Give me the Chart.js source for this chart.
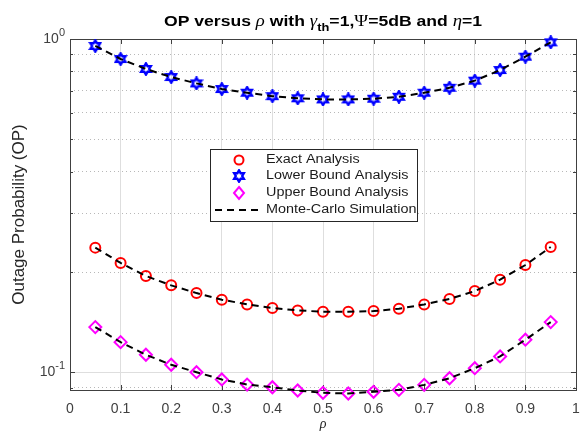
<!DOCTYPE html>
<html>
<head>
<meta charset="utf-8">
<script src="https://cdn.jsdelivr.net/npm/chart.js@4/dist/chart.umd.min.js"></script>
<style>
  html, body { margin: 0; padding: 0; background: #fff; }
  #wrap { width: 584px; height: 433px; }
</style>
</head>
<body>
<div id="wrap"><canvas id="op-chart"></canvas></div>
<script>
// rho values (x axis)
const rho = [0.05, 0.1, 0.15, 0.2, 0.25, 0.3, 0.35, 0.4, 0.45, 0.5,
  0.55, 0.6, 0.65, 0.7, 0.75, 0.8, 0.85, 0.9, 0.95];

// outage probability
const exactOP = [0.2368, 0.2130, 0.1947, 0.1825, 0.1730, 0.1653, 0.1600, 0.1560, 0.1535, 0.1521,
  0.1521, 0.1528, 0.1553, 0.1600, 0.1661, 0.1754, 0.1898, 0.2100, 0.2378];
const lowerOP = [0.953, 0.871, 0.813, 0.769, 0.736, 0.708, 0.690, 0.674, 0.664, 0.659,
  0.659, 0.662, 0.671, 0.690, 0.714, 0.750, 0.807, 0.885, 0.977];
const upperOP = [0.1368, 0.1233, 0.1130, 0.1055, 0.1002, 0.0953, 0.0920, 0.0903, 0.0883, 0.0869,
  0.0865, 0.0875, 0.0887, 0.0918, 0.0961, 0.1030, 0.1117, 0.1254, 0.1416];

// y ticks (log scale, majors + minors)
const yTicks = [0.09, 0.1, 0.2, 0.3, 0.4, 0.5, 0.6, 0.7, 0.8, 0.9, 1];
const yMajor = [0.1, 1];
const yLabels = { 0.1: "-1", 1: "0" };

const axisColor = "#404040";

function pts(ys) {
  return rho.map((x, i) => ({ x: x, y: ys[i] }));
}

// hexagram marker (matlab 'h')
function hexagram(color) {
  const c = document.createElement("canvas");
  c.width = 14; c.height = 14;
  const g = c.getContext("2d");
  const R = 5.6, r = R / Math.sqrt(3);
  g.beginPath();
  for (let k = 0; k < 12; k++) {
    const a = -Math.PI / 2 + k * Math.PI / 6;
    const rr = k % 2 == 0 ? R : r;
    const px = 7 + rr * Math.cos(a), py = 7 + rr * Math.sin(a);
    if (k == 0) g.moveTo(px, py); else g.lineTo(px, py);
  }
  g.closePath();
  g.lineWidth = 2.4;
  g.strokeStyle = color;
  g.stroke();
  return c;
}
const hexBlue = hexagram("#0000ff");

// box + inner ticks like matlab
const boxPlugin = {
  id: "box",
  beforeDatasetsDraw(chart) {
    const { ctx, chartArea: a, scales } = chart;
    ctx.save();
    ctx.strokeStyle = axisColor;
    ctx.lineWidth = 1;
    ctx.beginPath();
    scales.x.ticks.forEach((t) => {
      const px = Math.round(scales.x.getPixelForValue(t.value)) + 0.5;
      ctx.moveTo(px, a.bottom); ctx.lineTo(px, a.bottom - 5);
      ctx.moveTo(px, a.top); ctx.lineTo(px, a.top + 5);
    });
    yTicks.forEach((v) => {
      const py = Math.round(scales.y.getPixelForValue(v)) + 0.5;
      const len = yMajor.includes(v) ? 5 : 3;
      ctx.moveTo(a.left, py); ctx.lineTo(a.left + len, py);
      ctx.moveTo(a.right, py); ctx.lineTo(a.right - len, py);
    });
    ctx.stroke();
    ctx.strokeRect(Math.round(a.left) + 0.5, Math.round(a.top) + 0.5,
      Math.round(a.right - a.left), Math.round(a.bottom - a.top));
    ctx.restore();
  },
  afterDraw(chart) {
    // y labels 10^0, 10^-1
    const { ctx, scales } = chart;
    ctx.save();
    ctx.fillStyle = axisColor;
    ctx.textBaseline = "alphabetic";
    yMajor.forEach((v) => {
      const py = scales.y.getPixelForValue(v);
      const exp = yLabels[v];
      ctx.font = "11px 'Liberation Sans'";
      const ew = ctx.measureText(exp).width;
      ctx.font = "14px 'Liberation Sans'";
      const bw = ctx.measureText("10").width;
      const right = 65;
      ctx.fillText("10", right - ew - bw, py + 4);
      ctx.font = "11px 'Liberation Sans'";
      ctx.fillText(exp, right - ew, py - 3);
    });
    ctx.restore();
  },
};

// title with sub/greek parts
const titlePlugin = {
  id: "optitle",
  afterDraw(chart) {
    const ctx = chart.ctx;
    const sans = "bold 15px 'Liberation Sans'";
    const ital = "italic 16px 'Liberation Serif'";
    const serif = "16px 'Liberation Serif'";
    const sub = "bold 11px 'Liberation Sans'";
    const parts = [
      [sans, "OP versus ", 0], [ital, "\u03C1", 0], [sans, " with ", 0],
      [ital, "\u03B3", 0], [sub, "th", 5], [sans, "=1,", 0], [serif, "\u03A8", 0],
      [sans, "=5dB and ", 0], [ital, "\u03B7", 0], [sans, "=1", 0],
    ];
    ctx.save();
    let w = 0;
    parts.forEach((p) => { ctx.font = p[0]; w += ctx.measureText(p[1]).width; });
    const target = 318, sx = target / w;
    ctx.translate(323 - target / 2, 26);
    ctx.scale(sx, 1);
    ctx.fillStyle = "#000";
    let x = 0;
    parts.forEach((p) => {
      ctx.font = p[0];
      ctx.fillText(p[1], x, p[2]);
      x += ctx.measureText(p[1]).width;
    });
    ctx.restore();
  },
};

// legend box inside the axes
const legendPlugin = {
  id: "oplegend",
  afterDraw(chart) {
    const ctx = chart.ctx;
    ctx.save();
    ctx.fillStyle = "#fff";
    ctx.fillRect(210, 149, 207, 72);
    ctx.strokeStyle = "#262626";
    ctx.lineWidth = 1;
    ctx.strokeRect(210.5, 149.5, 207, 72);
    const rows = [160, 176, 193, 210];
    const mx = 239;
    // circle
    ctx.lineWidth = 2;
    ctx.strokeStyle = "#ff0000";
    ctx.beginPath(); ctx.arc(mx, rows[0], 4.5, 0, Math.PI * 2); ctx.stroke();
    // hexagram
    ctx.drawImage(hexBlue, mx - 7, rows[1] - 7);
    // diamond
    ctx.strokeStyle = "#ff00ff";
    ctx.beginPath();
    ctx.moveTo(mx, rows[2] - 6); ctx.lineTo(mx + 5, rows[2]);
    ctx.lineTo(mx, rows[2] + 6); ctx.lineTo(mx - 5, rows[2]);
    ctx.closePath(); ctx.stroke();
    // dashed line
    ctx.strokeStyle = "#000";
    ctx.setLineDash([7, 5]);
    ctx.beginPath(); ctx.moveTo(215, rows[3]); ctx.lineTo(262, rows[3]); ctx.stroke();
    ctx.setLineDash([]);
    // texts
    const names = ["Exact Analysis", "Lower Bound Analysis", "Upper Bound Analysis", "Monte-Carlo Simulation"];
    ctx.fillStyle = "#1a1a1a";
    ctx.font = "12px 'Liberation Sans'";
    ctx.textBaseline = "middle";
    names.forEach((n, i) => {
      ctx.save();
      ctx.translate(266, rows[i]);
      ctx.scale(1.2, 1);
      ctx.fillText(n, 0, 0);
      ctx.restore();
    });
    ctx.restore();
  },
};

const mcLine = {
  borderColor: "#000",
  borderWidth: 2,
  borderDash: [7, 5],
  pointRadius: 0,
  pointHoverRadius: 0,
  fill: false,
  tension: 0,
  clip: false,
  order: 0,
};

const data = {
  datasets: [
    Object.assign({ label: "Monte-Carlo Simulation", data: pts(exactOP) }, mcLine),
    Object.assign({ label: "mc2", data: pts(lowerOP) }, mcLine),
    Object.assign({ label: "mc3", data: pts(upperOP) }, mcLine),
    {
      label: "Exact Analysis",
      data: pts(exactOP),
      showLine: false,
      pointStyle: "circle",
      pointRadius: 5,
      pointBorderWidth: 2,
      pointBorderColor: "#ff0000",
      pointBackgroundColor: "rgba(0,0,0,0)",
      clip: false,
      order: 1,
    },
    {
      label: "Lower Bound Analysis",
      data: pts(lowerOP),
      showLine: false,
      pointStyle: hexBlue,
      pointRadius: 6,
      clip: false,
      order: 1,
    },
    {
      label: "Upper Bound Analysis",
      data: pts(upperOP),
      showLine: false,
      pointStyle: "rectRot",
      pointRadius: 6,
      pointBorderWidth: 2,
      pointBorderColor: "#ff00ff",
      pointBackgroundColor: "rgba(0,0,0,0)",
      clip: false,
      order: 1,
    },
  ],
};

const config = {
  type: "line",
  data: data,
  options: {
    responsive: true,
    maintainAspectRatio: false,
    animation: false,
    layout: { padding: { left: 0, right: 0, top: 39, bottom: 0 } },
    plugins: {
      legend: { display: false },
      title: { display: false },
      tooltip: { enabled: false },
    },
    scales: {
      x: {
        type: "linear",
        min: 0,
        max: 1,
        ticks: {
          stepSize: 0.1,
          color: axisColor,
          padding: 11,
          maxRotation: 0,
          font: { family: "'Liberation Sans'", size: 14 },
          callback: (v) => String(Math.round(v * 10) / 10),
        },
        grid: { color: "#dedede", lineWidth: 1, drawTicks: false },
        border: { display: false },
        title: {
          display: true,
          text: "\u03C1",
          color: "#262626",
          padding: 0,
          font: { family: "'Liberation Serif'", style: "italic", size: 14 },
        },
        afterFit: (s) => {
          s.height = 43;
          s.paddingLeft = 0;
          s.paddingRight = 1;
        },
      },
      y: {
        type: "logarithmic",
        min: 0.0886,
        max: 1,
        afterBuildTicks: (s) => { s.ticks = yTicks.map((v) => ({ value: v })); },
        ticks: { display: false },
        grid: {
          drawTicks: false,
          color: (c) => (c.tick && yMajor.includes(c.tick.value) ? "#dedede" : "#b8b8b8"),
          lineWidth: 1,
        },
        border: {
          display: false,
          dash: (c) => (c.tick && yMajor.includes(c.tick.value) ? [] : [1, 3]),
        },
        title: {
          display: true,
          text: "Outage Probability (OP)",
          color: "#262626",
          padding: { top: 9, bottom: 0 },
          font: { family: "'Liberation Sans'", size: 17 },
        },
        afterFit: (s) => {
          s.width = 70;
          s.paddingTop = 0;
          s.paddingBottom = 0;
        },
      },
    },
  },
  plugins: [boxPlugin, titlePlugin, legendPlugin],
};

new Chart(document.getElementById("op-chart"), config);
</script>
</body>
</html>
